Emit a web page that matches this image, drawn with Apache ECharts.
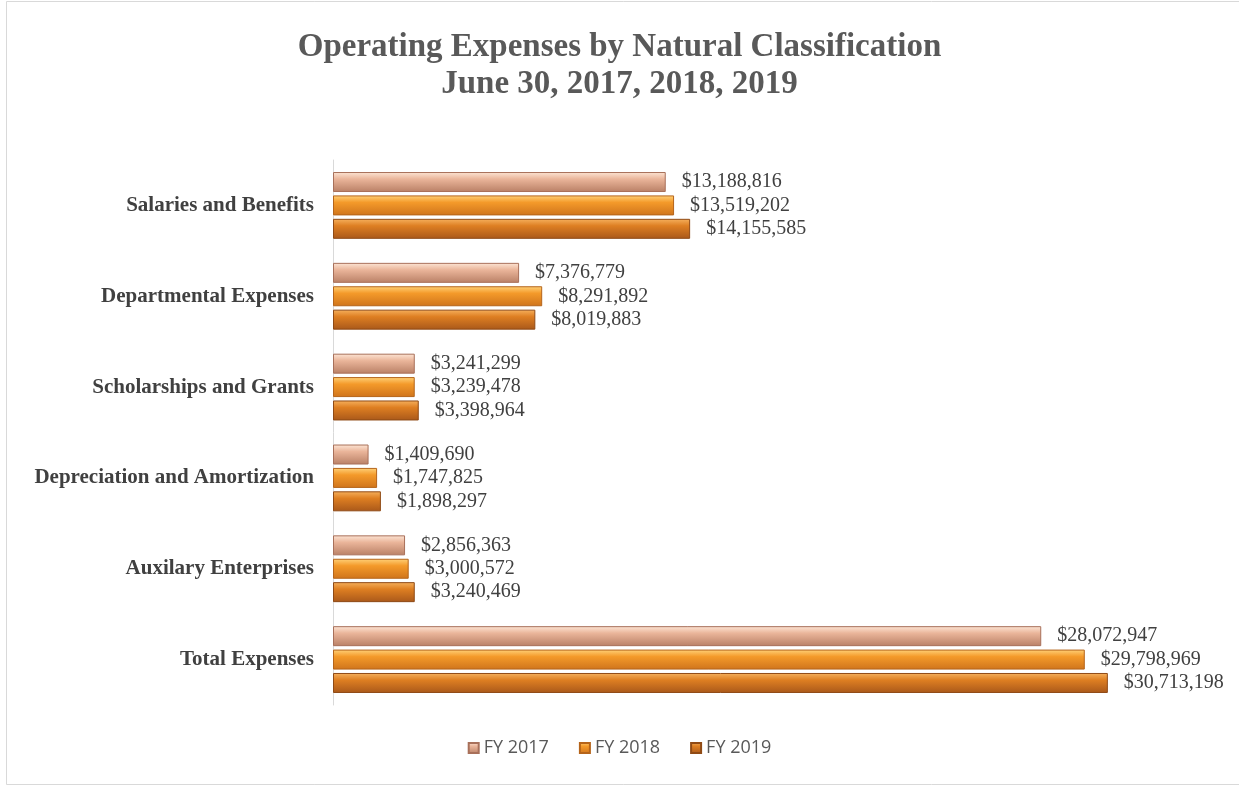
<!DOCTYPE html>
<html>
<head>
<meta charset="utf-8">
<script src="https://cdn.jsdelivr.net/npm/echarts@6/dist/echarts.min.js"></script>
<style>
  html, body { margin: 0; padding: 0; background: #fff; }
  #main { width: 1239px; height: 786px; }
</style>
</head>
<body>
<div id="main"></div>
<script>
// 数据
const categories = [
  "Salaries and Benefits",
  "Departmental Expenses",
  "Scholarships and Grants",
  "Depreciation and Amortization",
  "Auxilary Enterprises",
  "Total Expenses",
];
const fy2017 = [13188816, 7376779, 3241299, 1409690, 2856363, 28072947];
const fy2018 = [13519202, 8291892, 3239478, 1747825, 3000572, 29798969];
const fy2019 = [14155585, 8019883, 3398964, 1898297, 3240469, 30713198];
const seriesNames = ["FY 2017", "FY 2018", "FY 2019"];

const chart = echarts.init(document.getElementById("main"));

const grad = (c0, c1, c2) =>
  new echarts.graphic.LinearGradient(0, 0, 0, 1, [
    { offset: 0, color: c0 },
    { offset: 0.35, color: c1 },
    { offset: 1, color: c2 },
  ]);

const fmt = (p) => "$" + p.value.toLocaleString("en-US");

const makeSeries = (name, data, fill, border) => ({
  name: name,
  type: "bar",
  data: data,
  barWidth: 20,
  barGap: "17%",
  itemStyle: { color: fill, borderColor: border, borderWidth: 1 },
  label: {
    show: true,
    position: "right",
    distance: 16,
    formatter: fmt,
    fontFamily: "Liberation Serif",
    fontSize: 20,
    color: "#404040",
  },
});

const option = {
  backgroundColor: "#fff",
  // 外框
  graphic: [
    {
      type: "rect",
      shape: { x: 6.5, y: 1.5, width: 1240, height: 783 },
      style: { fill: "none", stroke: "#d9d9d9", lineWidth: 1 },
      silent: true,
    },
  ],
  title: {
    text: "Operating Expenses by Natural Classification\nJune 30, 2017, 2018, 2019",
    left: "center",
    top: 24,
    textStyle: {
      fontFamily: "Liberation Serif",
      fontWeight: "bold",
      fontSize: 33,
      lineHeight: 37,
      color: "#595959",
    },
  },
  legend: {
    bottom: 24,
    left: "center",
    itemWidth: 10,
    itemHeight: 10,
    itemGap: 30,
    icon: "rect",
    textStyle: { fontFamily: "Open Sans", fontSize: 18, color: "#595959" },
    data: seriesNames,
  },
  grid: { left: 333, right: 23, top: 160, bottom: 81 },
  xAxis: {
    type: "value",
    min: 0,
    max: 35000000,
    show: false,
  },
  yAxis: {
    type: "category",
    data: categories,
    inverse: true,
    axisTick: { show: false },
    axisLine: { lineStyle: { color: "#d9d9d9", width: 1 } },
    axisLabel: {
      margin: 19,
      fontFamily: "Liberation Serif",
      fontWeight: "bold",
      fontSize: 21,
      color: "#404040",
    },
  },
  series: [
    makeSeries(seriesNames[0], fy2017, grad("#fde6d6", "#eab59a", "#b98066"), "#a8705a"),
    makeSeries(seriesNames[1], fy2018, grad("#ffd27a", "#f49a2a", "#cf741c"), "#b5641a"),
    makeSeries(seriesNames[2], fy2019, grad("#f6b15e", "#de7f22", "#a9581a"), "#8f4a15"),
  ],
};
chart.setOption(option);
</script>
</body>
</html>
